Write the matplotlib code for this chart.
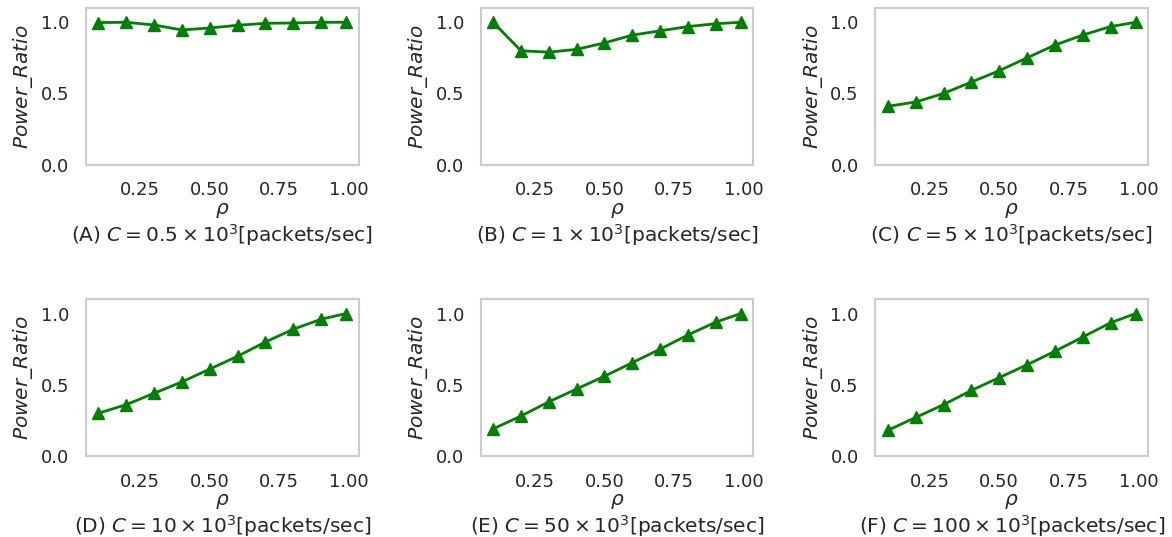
import numpy as np
import matplotlib
matplotlib.use("Agg")
import matplotlib.pyplot as plt
import seaborn as sns

# %% Power ratio vs load for several link capacities
rho = [0.1, 0.2, 0.3, 0.4, 0.5, 0.6, 0.7, 0.8, 0.9, 0.99]

ratio_a = [0.998, 1.0, 0.981, 0.946, 0.96, 0.979, 0.993, 0.995, 1.0, 1.0]
ratio_b = [1.0, 0.80, 0.79, 0.81, 0.855, 0.91, 0.94, 0.97, 0.99, 1.0]
ratio_c = [0.41, 0.44, 0.50, 0.58, 0.66, 0.75, 0.84, 0.91, 0.97, 1.0]
ratio_d = [0.30, 0.36, 0.44, 0.52, 0.61, 0.70, 0.80, 0.89, 0.96, 1.0]
ratio_e = [0.19, 0.28, 0.38, 0.47, 0.56, 0.655, 0.75, 0.85, 0.94, 1.0]
ratio_f = [0.18, 0.27, 0.36, 0.46, 0.55, 0.64, 0.735, 0.835, 0.935, 1.0]

captions = [
    r"(A) $C=0.5\times10^3$[packets/sec]",
    r"(B) $C=1\times10^3$[packets/sec]",
    r"(C) $C=5\times10^3$[packets/sec]",
    r"(D) $C=10\times10^3$[packets/sec]",
    r"(E) $C=50\times10^3$[packets/sec]",
    r"(F) $C=100\times10^3$[packets/sec]",
]
series = [ratio_a, ratio_b, ratio_c, ratio_d, ratio_e, ratio_f]

xticks = [0.25, 0.50, 0.75, 1.00]
yticks = [0.0, 0.5, 1.0]

# %% Plot
sns.set_style("whitegrid")
plt.rcParams["font.family"] = ["DejaVu Sans"]
plt.rcParams["font.size"] = 13
plt.rcParams["text.color"] = ".15"
plt.rcParams["axes.labelcolor"] = ".15"

fig, axes = plt.subplots(2, 3, figsize=(11.72, 5.37), dpi=100)
fig.subplots_adjust(left=0.0734, right=0.9795, top=0.985, bottom=0.151,
                    wspace=0.4485, hspace=0.86)

for ax, vals, cap in zip(axes.flat, series, captions):
    ax.plot(rho, vals, color="green", marker="^", markersize=9, linewidth=2)
    ax.grid(False)
    ax.set_ylim(0, 1.1)
    ax.set_xticks(xticks)
    ax.set_xticklabels([f"{t:.2f}" for t in xticks])
    ax.set_yticks(yticks)
    ax.set_yticklabels([f"{t:.1f}" for t in yticks])
    ax.tick_params(axis="both", labelsize=13, colors=".15", pad=12, length=0)
    for sp in ax.spines.values():
        sp.set_color("#cccccc")
        sp.set_linewidth(1.5)
    ax.set_ylabel(r"$Power\_Ratio$", fontsize=14.5, labelpad=4)
    ax.set_xlabel(r"$\rho$" + "\n" + cap, fontsize=14.5, labelpad=1,
                  linespacing=1.12)

fig.savefig("out.png", dpi=100)
